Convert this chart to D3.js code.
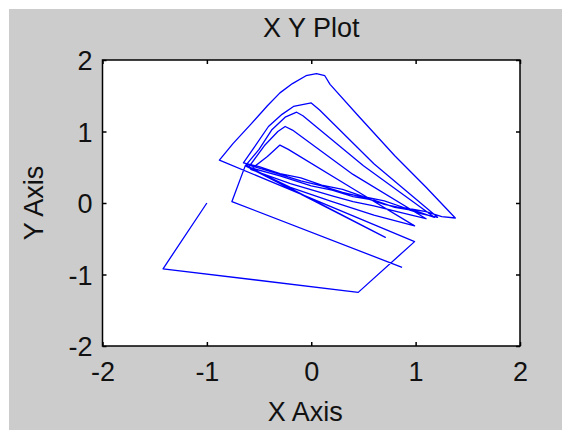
<!DOCTYPE html>
<html>
<head>
<meta charset="utf-8">
<script src="https://cdn.jsdelivr.net/npm/d3@7"></script>
<style>
  body { margin: 0; background: #fff; }
  text { font-family: Arial, "Liberation Sans", sans-serif; fill: #111; }
</style>
</head>
<body>
<svg id="chart"></svg>
<script>
// chart values
const xTicks = [-2, -1, 0, 1, 2]
const yTicks = [-2, -1, 0, 1, 2]
const titleText = 'X Y Plot'
const xLabel = 'X Axis'
const yLabel = 'Y Axis'

// the trace, in drawing order
const xs = [
  -1.00, -1.42, 0.45, 0.99, -0.88,
  -0.75, -0.58, -0.42, -0.30, -0.18, -0.05, 0.05, 0.13, 0.18, 0.45, 0.80, 1.10, 1.38,
  1.25, 1.10, 0.90, 0.70, 0.50, 0.30, 0.10, -0.10, -0.30, -0.50, -0.65,
  -0.55, -0.41, -0.28, -0.17, 0.00, 0.08, 0.60, 1.21,
  1.05, 0.90, 0.70, 0.50, 0.30, 0.10, -0.10, -0.30, -0.62,
  -0.50, -0.38, -0.25, -0.14, -0.08, 0.50, 1.18,
  1.00, 0.80, 0.60, 0.40, 0.20, 0.00, -0.30, -0.60,
  -0.45, -0.32, -0.25, -0.18, 0.40, 1.10,
  0.90, 0.60, 0.40, 0.20, -0.20, -0.58,
  -0.42, -0.30, -0.22, 0.40, 0.99,
  0.60, 0.20, -0.20, -0.63,
  0.71, -0.63, -0.76, 0.87
]
const ys = [
  0.00, -0.92, -1.25, -0.54, 0.60,
  0.83, 1.10, 1.36, 1.54, 1.67, 1.78, 1.81, 1.78, 1.66, 1.22, 0.66, 0.22, -0.21,
  -0.19, -0.12, -0.07, 0.03, 0.09, 0.19, 0.25, 0.35, 0.41, 0.51, 0.56,
  0.77, 1.07, 1.24, 1.35, 1.40, 1.30, 0.55, -0.20,
  -0.15, -0.08, -0.02, 0.08, 0.15, 0.24, 0.31, 0.40, 0.54,
  0.75, 1.02, 1.20, 1.27, 1.22, 0.52, -0.20,
  -0.11, -0.06, 0.04, 0.09, 0.18, 0.24, 0.38, 0.50,
  0.80, 1.00, 1.07, 1.02, 0.40, -0.22,
  -0.15, -0.04, 0.02, 0.10, 0.27, 0.47,
  0.65, 0.81, 0.75, 0.20, -0.32,
  -0.17, 0.02, 0.22, 0.52,
  -0.48, 0.53, 0.02, -0.90
]

const width = 562
const height = 430
const margin = { top: 60, right: 42, bottom: 84, left: 102.5 }

const svg = d3.select('#chart')
  .attr('width', width)
  .attr('height', height)

// gray figure background
svg.append('rect')
  .attr('x', 9).attr('y', 9)
  .attr('width', width - 9).attr('height', height - 9)
  .attr('fill', '#cccccc')

const x = d3.scaleLinear()
  .domain([-2, 2])
  .range([margin.left, width - margin.right])

const y = d3.scaleLinear()
  .domain([-2, 2])
  .range([height - margin.bottom, margin.top])

svg.append('rect')
  .attr('x', x(-2)).attr('y', y(2))
  .attr('width', x(2) - x(-2)).attr('height', y(-2) - y(2))
  .attr('fill', '#ffffff')

const points = xs.map((d, i) => [d, ys[i]])

svg.append('path')
  .datum(points)
  .attr('fill', 'none')
  .attr('stroke', '#0000ff')
  .attr('stroke-width', 1.3)
  .attr('stroke-linejoin', 'round')
  .attr('d', d3.line().x(d => x(d[0])).y(d => y(d[1])))

// axes, ticks pointing inwards like the original
const plainNum = d => String(d)
const axisB = svg.append('g')
  .attr('transform', `translate(0,${y(-2)})`)
  .call(d3.axisBottom(x).tickValues(xTicks).tickSize(-4).tickPadding(10).tickFormat(plainNum))
const axisL = svg.append('g')
  .attr('transform', `translate(${x(-2)},0)`)
  .call(d3.axisLeft(y).tickValues(yTicks).tickSize(-4).tickPadding(10).tickFormat(plainNum))
const axisT = svg.append('g')
  .attr('transform', `translate(0,${y(2)})`)
  .call(d3.axisTop(x).tickValues(xTicks).tickSize(-4).tickFormat(''))
const axisR = svg.append('g')
  .attr('transform', `translate(${x(2)},0)`)
  .call(d3.axisRight(y).tickValues(yTicks).tickSize(-4).tickFormat(''))

;[axisB, axisL, axisT, axisR].forEach(g => {
  g.select('.domain').remove()
  g.selectAll('line').attr('stroke', '#000').attr('stroke-width', 1.5)
  g.selectAll('text')
    .style('font-size', '27px')
    .style('font-family', 'Arial, "Liberation Sans", sans-serif')
    .attr('fill', '#111')
})
axisB.selectAll('text').attr('dy', '0.92em')
axisL.selectAll('text').attr('dy', '0.36em')

svg.append('rect')
  .attr('x', x(-2)).attr('y', y(2))
  .attr('width', x(2) - x(-2)).attr('height', y(-2) - y(2))
  .attr('fill', 'none')
  .attr('stroke', '#000')
  .attr('stroke-width', 1.5)

svg.append('text')
  .attr('x', (x(-2) + x(2)) / 2)
  .attr('y', 37)
  .attr('text-anchor', 'middle')
  .style('font-size', '27px')
  .text(titleText)

svg.append('text')
  .attr('x', (x(-2) + x(2)) / 2 - 6)
  .attr('y', 421)
  .attr('text-anchor', 'middle')
  .style('font-size', '27px')
  .text(xLabel)

svg.append('text')
  .attr('transform', `translate(43,${(y(-2) + y(2)) / 2}) rotate(-90)`)
  .attr('text-anchor', 'middle')
  .style('font-size', '27px')
  .text(yLabel)
</script>
</body>
</html>
